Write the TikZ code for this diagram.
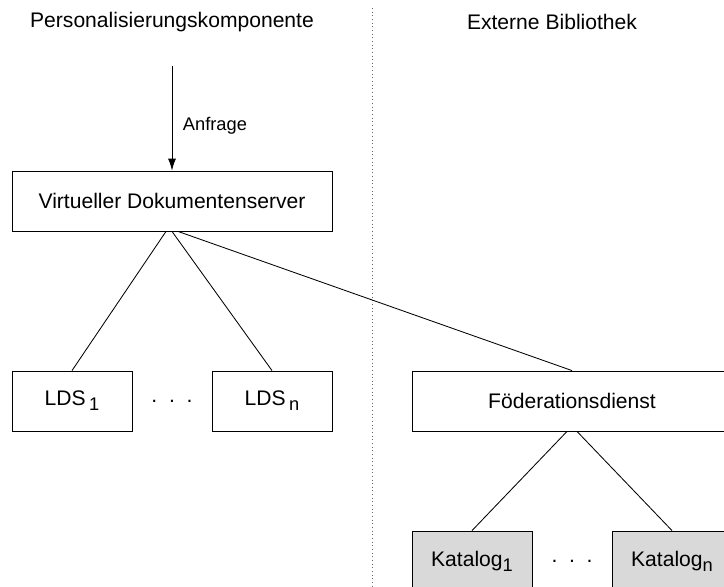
\documentclass[tikz,border=0pt]{standalone}
\usepackage{fontspec}
\setmainfont{Liberation Sans}
\usetikzlibrary{arrows.meta}
\newcommand{\idx}[1]{\raisebox{-0.45ex}{\fontsize{13}{13}\selectfont #1}}
\tikzset{
  box/.style={draw,line width=0.6pt,minimum height=1.5cm,inner sep=0pt,font=\fontsize{15}{18}\selectfont},
  grau/.style={box,fill=gray!30}
}

\begin{document}
\begin{tikzpicture}
\clip (0,0) rectangle (18.1,14.65);
\node[font=\fontsize{15}{18}\selectfont] (titlep) at (4.3,14.1) {Personalisierungskomponente};
\node[font=\fontsize{15}{18}\selectfont] (titleb) at (13.8,14.1) {Externe Bibliothek};
\coordinate (sepo) at (9.3,14.45);
\coordinate (sepu) at (9.3,0);
\coordinate (start) at (4.3,13);
\node[box,minimum width=8cm] (vds) at (4.3,9.625) {Virtueller Dokumentenserver};
\node[anchor=west,font=\fontsize{13}{16}\selectfont] (anfrage) at (4.45,11.5) {Anfrage};
\node[box,minimum width=3cm] (lds1) at (1.8,4.625) {LDS\,\idx{1}};
\node[font=\fontsize{15}{18}\selectfont] (ldsdots) at (4.3,4.625) {.\ \ .\ \ .};
\node[box,minimum width=3cm] (ldsn) at (6.8,4.625) {LDS\,\idx{n}};
\node[box,minimum width=8cm] (fd) at (14.3,4.625) {Föderationsdienst};
\node[grau,minimum width=3cm] (kat1) at (11.8,0.625) {Katalog\idx{1}};
\node[font=\fontsize{15}{18}\selectfont] (katdots) at (14.3,0.625) {.\ \ .\ \ .};
\node[grau,minimum width=3cm] (katn) at (16.8,0.625) {Katalog\idx{n}};

\draw[dotted,line width=0.6pt,gray!80!black] (sepo) -- (sepu);
\draw[-{Latex[length=3mm,width=2mm]},line width=0.6pt] (start) -- (vds); \draw[line width=0.6pt] ([xshift=-0.15cm]vds.south) -- (lds1.north); \draw[line width=0.6pt] (vds.south) -- (ldsn.north); \draw[line width=0.6pt] ([xshift=0.15cm]vds.south) -- (fd.north); \draw[line width=0.6pt] ([xshift=-0.125cm]fd.south) -- (kat1.north); \draw[line width=0.6pt] ([xshift=0.125cm]fd.south) -- (katn.north);
\end{tikzpicture}
\end{document}
